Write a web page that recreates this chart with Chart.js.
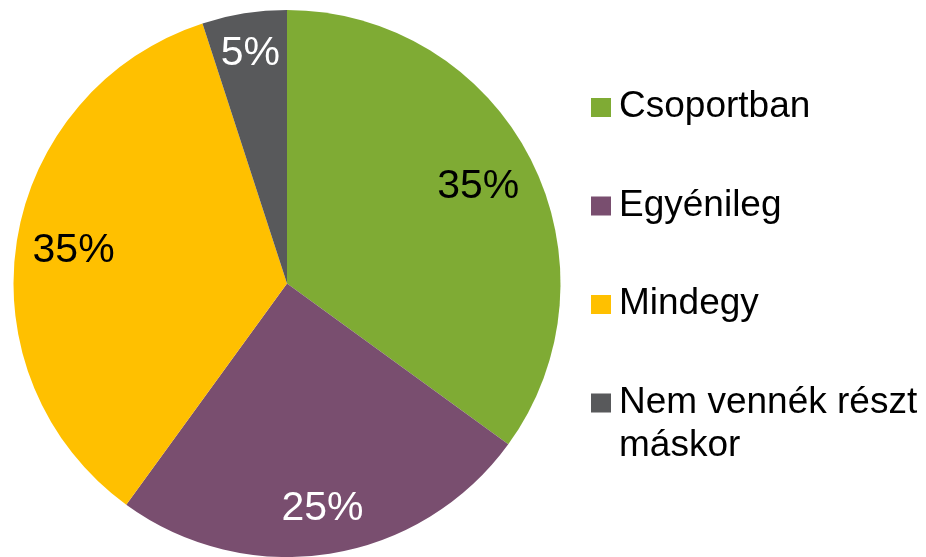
<!DOCTYPE html>
<html>
<head>
<meta charset="utf-8">
<script src="https://cdn.jsdelivr.net/npm/chart.js@4.4.0/dist/chart.umd.min.js"></script>
<style>
  html, body { margin: 0; padding: 0; background: #fff; }
  #wrap { width: 926px; height: 557px; }
</style>
</head>
<body>
<div id="wrap"><canvas id="pie"></canvas></div>
<script>
// data
const labels = ['Csoportban', 'Egyénileg', 'Mindegy', ['Nem vennék részt', 'máskor']];
const values = [35, 25, 35, 5];
const colors = ['#7fab34', '#794e6f', '#ffc000', '#58595b'];
const labelColors = ['#000000', '#ffffff', '#000000', '#ffffff'];

const FONT = '"Liberation Sans", Arial, sans-serif';

// Draws the percent labels inside the slices (placement roughly like Excel's best fit)
const labelRadius = [0.785, 0.83, 0.79, 0.855];
const sliceLabels = {
    id: 'sliceLabels',
    afterDatasetsDraw(chart) {
        const { ctx } = chart;
        const meta = chart.getDatasetMeta(0);
        ctx.save();
        ctx.font = `41px ${FONT}`;
        ctx.textAlign = 'center';
        ctx.textBaseline = 'middle';
        meta.data.forEach((arc, i) => {
            const { x, y, startAngle, endAngle, outerRadius } = arc.getProps(['x', 'y', 'startAngle', 'endAngle', 'outerRadius'], true);
            const mid = (startAngle + endAngle) / 2;
            const r = outerRadius * labelRadius[i];
            ctx.fillStyle = labelColors[i];
            ctx.fillText(values[i] + '%', x + Math.cos(mid) * r, y + Math.sin(mid) * r + 1);
        });
        ctx.restore();
    }
};

// Legend on the right, drawn by hand so the last item can wrap
const sideLegend = {
    id: 'sideLegend',
    afterDraw(chart) {
        const { ctx } = chart;
        ctx.save();
        ctx.font = `37px ${FONT}`;
        ctx.textBaseline = 'middle';
        let y = 107;
        labels.forEach((lab, i) => {
            ctx.fillStyle = colors[i];
            ctx.fillRect(591, y - 9, 20, 19);
            ctx.fillStyle = '#000';
            const lines = Array.isArray(lab) ? lab : [lab];
            lines.forEach((ln, j) => ctx.fillText(ln, 619, y + j * 43));
            y += 98.5;
        });
        ctx.restore();
    }
};

window.addEventListener('DOMContentLoaded', () => {
    new Chart(document.getElementById('pie'), {
        type: 'pie',
        data: {
            labels: labels,
            datasets: [{
                data: values,
                backgroundColor: colors,
                borderWidth: 0
            }]
        },
        options: {
            responsive: true,
            maintainAspectRatio: false,
            animation: false,
            layout: { padding: { left: 12, right: 364, top: 10, bottom: 0 } },
            plugins: {
                legend: { display: false },
                tooltip: { enabled: false }
            }
        },
        plugins: [sliceLabels, sideLegend]
    });
});
</script>
</body>
</html>
